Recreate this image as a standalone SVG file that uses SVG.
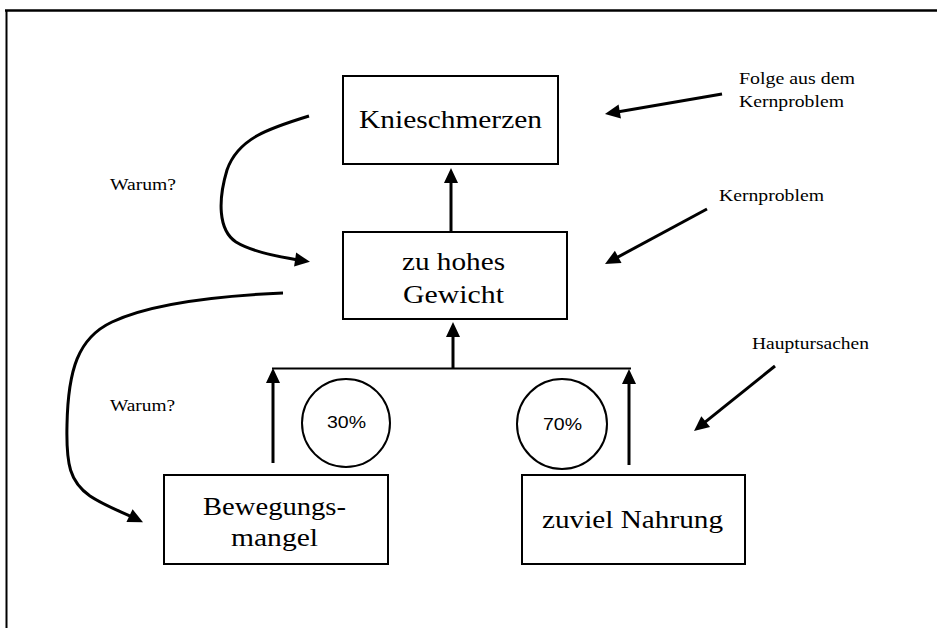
<svg xmlns="http://www.w3.org/2000/svg" width="937" height="628" viewBox="0 0 937 628">
  <style>
    .box { fill: #fff; stroke: #000; stroke-width: 2; }
    .ring { fill: none; stroke: #000; stroke-width: 2; }
    .big { font-family: "Liberation Serif", "Times New Roman", serif; font-size: 25px; fill: #000; }
    .small { font-family: "Liberation Serif", "Times New Roman", serif; font-size: 17.5px; fill: #000; }
    .pct { font-family: "Liberation Sans", Arial, sans-serif; font-size: 17px; fill: #000; }
    .arrow { fill: none; stroke: #000; stroke-width: 3; marker-end: url(#head); }
    .bar { fill: none; stroke: #000; stroke-width: 2; }
  </style>
  <defs>
    <marker id="head" markerUnits="userSpaceOnUse" markerWidth="16" markerHeight="14" refX="10" refY="7" orient="auto" overflow="visible">
      <path d="M0,0 L15,7 L0,14 z" fill="#000"/>
    </marker>
  </defs>

  <rect width="937" height="628" fill="#fff"/>

  <!-- page frame: top and left edges -->
  <g id="frame">
    <line x1="5" y1="10.5" x2="937" y2="10.5" stroke="#000" stroke-width="2.5"/>
    <line x1="6.5" y1="10" x2="6.5" y2="628" stroke="#000" stroke-width="2"/>
  </g>

  <g id="connectors">
    <!-- Gewicht -> Knieschmerzen -->
    <line class="arrow" x1="451" y1="231" x2="451" y2="173"/>
    <!-- junction bar -> Gewicht -->
    <line class="arrow" x1="453" y1="368" x2="453" y2="327"/>
    <!-- junction bar -->
    <line class="bar" x1="272" y1="368.5" x2="631" y2="368.5"/>
    <!-- causes -> bar -->
    <line class="arrow" x1="273" y1="463" x2="273" y2="373"/>
    <line class="arrow" x1="629" y1="465" x2="629" y2="374"/>
    <!-- annotation pointers -->
    <line class="arrow" x1="722" y1="94" x2="609.9" y2="113.2"/>
    <line class="arrow" x1="707" y1="209" x2="609.4" y2="261.6"/>
    <line class="arrow" x1="775" y1="366" x2="697.9" y2="427.9"/>
    <!-- "Warum?" curves -->
    <path class="arrow" d="M309,116 C270,128 238,138 227,170 C218,200 218,230 236,242 C252,252 278,257 305,261"/>
    <path class="arrow" d="M283,293 C215,296 150,304 112,322 C78,338 68,370 67,425 C66,465 70,482 90,496 C105,506 120,511 138.5,520"/>
  </g>

  <g id="knieschmerzen">
    <rect class="box" x="343" y="76" width="215" height="88"/>
    <text class="big" x="359" y="128" textLength="183" lengthAdjust="spacingAndGlyphs">Knieschmerzen</text>
  </g>

  <g id="gewicht">
    <rect class="box" x="343" y="232" width="224" height="87"/>
    <text class="big" x="402" y="270" textLength="103" lengthAdjust="spacingAndGlyphs">zu hohes</text>
    <text class="big" x="403" y="303" textLength="101" lengthAdjust="spacingAndGlyphs">Gewicht</text>
  </g>

  <g id="bewegungsmangel">
    <rect class="box" x="164" y="475" width="224" height="89"/>
    <text class="big" x="203" y="515" textLength="143" lengthAdjust="spacingAndGlyphs">Bewegungs-</text>
    <text class="big" x="231" y="546" textLength="87" lengthAdjust="spacingAndGlyphs">mangel</text>
  </g>

  <g id="nahrung">
    <rect class="box" x="522" y="475" width="223" height="89"/>
    <text class="big" x="542" y="528" textLength="181" lengthAdjust="spacingAndGlyphs">zuviel Nahrung</text>
  </g>

  <g id="anteil-30">
    <circle class="ring" cx="346" cy="423" r="44"/>
    <text class="pct" x="327" y="428" textLength="39" lengthAdjust="spacingAndGlyphs">30%</text>
  </g>

  <g id="anteil-70">
    <circle class="ring" cx="562" cy="424" r="45"/>
    <text class="pct" x="543" y="430" textLength="39" lengthAdjust="spacingAndGlyphs">70%</text>
  </g>

  <g id="labels">
    <text class="small" x="739" y="84" textLength="116" lengthAdjust="spacingAndGlyphs">Folge aus dem</text>
    <text class="small" x="739" y="107" textLength="105" lengthAdjust="spacingAndGlyphs">Kernproblem</text>
    <text class="small" x="719" y="201" textLength="105" lengthAdjust="spacingAndGlyphs">Kernproblem</text>
    <text class="small" x="752" y="349" textLength="117" lengthAdjust="spacingAndGlyphs">Hauptursachen</text>
    <text class="small" x="110" y="190" textLength="66" lengthAdjust="spacingAndGlyphs">Warum?</text>
    <text class="small" x="110" y="411" textLength="65" lengthAdjust="spacingAndGlyphs">Warum?</text>
  </g>
</svg>
